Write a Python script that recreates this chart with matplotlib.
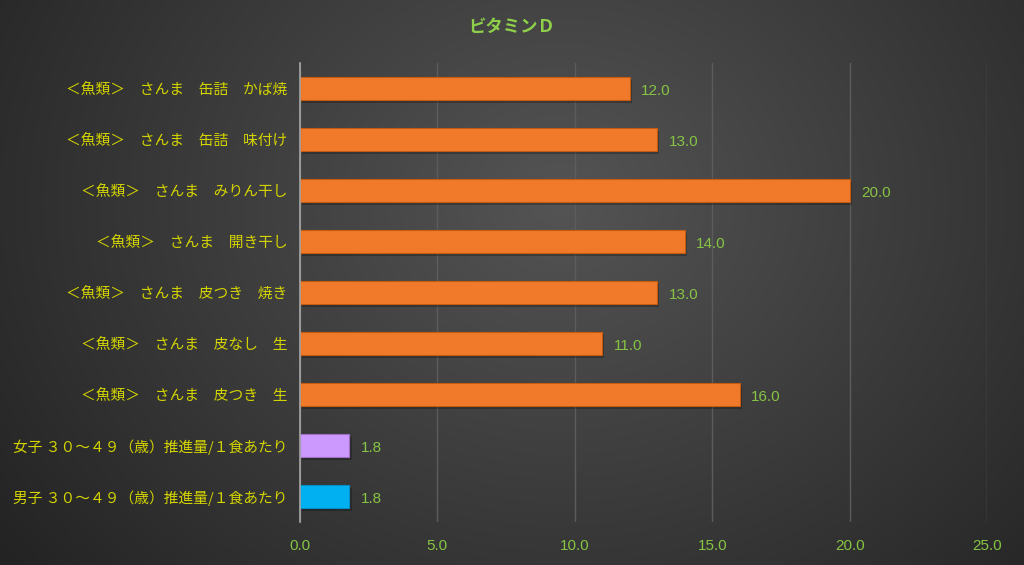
import matplotlib
matplotlib.use("Agg")
import matplotlib.pyplot as plt
import numpy as np

plt.rcParams['font.family'] = ['Noto Sans CJK JP', 'DejaVu Sans']

# data, top to bottom
labels = [
	"＜魚類＞　さんま　缶詰　かば焼",
	"＜魚類＞　さんま　缶詰　味付け",
	"＜魚類＞　さんま　みりん干し",
	"＜魚類＞　さんま　開き干し",
	"＜魚類＞　さんま　皮つき　焼き",
	"＜魚類＞　さんま　皮なし　生",
	"＜魚類＞　さんま　皮つき　生",
	"女子 ３０～４９（歳）推進量/１食あたり",
	"男子 ３０～４９（歳）推進量/１食あたり",
]
values = [12.0, 13.0, 20.0, 14.0, 13.0, 11.0, 16.0, 1.8, 1.8]
bar_colors = ["#F07A2A"] * 7 + ["#CC99FF", "#00B0F0"]
edge_colors = ["#C55A11"] * 7 + ["#9E6FC9", "#0090C8"]
title = "ビタミンＤ"
xticks = [0, 5, 10, 15, 20, 25]

green = "#86C443"
yellow = "#D4D400"
numfont = ["Liberation Sans", "DejaVu Sans"]

fig = plt.figure(figsize=(10.24, 5.65), dpi=100)

# radial gradient background
bg = fig.add_axes([0, 0, 1, 1], zorder=-10)
h, w = 565, 1024
yy, xx = np.mgrid[0:h, 0:w]
r = np.sqrt(((xx - 560) / 620.0) ** 2 + ((yy - 200) / 520.0) ** 2)
shade = np.clip(0.33 - 0.17 * r, 0.12, 0.4)
bg.imshow(np.dstack([shade, shade, shade]), aspect="auto", extent=[0, 1, 0, 1])
bg.axis("off")

ax = fig.add_axes([300 / 1024, 1 - 522 / 565, 687 / 1024, 459 / 565])
ax.set_facecolor("none")

ypos = np.arange(len(values))[::-1]
# soft shadow
ax.barh(ypos - 0.06, values, height=0.45, left=0.08, color="black", alpha=0.25, zorder=2)
ax.barh(ypos, values, height=0.45, color=bar_colors, edgecolor=edge_colors, linewidth=0.8, zorder=3)

for y, v in zip(ypos, values):
	ax.text(v + 0.42, y - 0.02, f"{v:.1f}", va="center_baseline", ha="left", color=green, fontsize=11, family=numfont)

ax.set_xlim(0, 25)
ax.set_ylim(-0.5, len(values) - 0.5)
ax.set_xticks(xticks)
ax.set_xticklabels([f"{t:.1f}" for t in xticks], color=green, fontsize=11, family=numfont)
ax.set_yticks(ypos)
ax.set_yticklabels(labels, color=yellow, fontsize=10.6)
ax.tick_params(axis="both", length=0)
ax.tick_params(axis="x", pad=12)
ax.tick_params(axis="y", pad=9)

ax.grid(axis="x", color="#5c5c5c", linewidth=1, zorder=0)
ax.set_axisbelow(True)
for s in ["top", "right", "bottom"]:
	ax.spines[s].set_visible(False)
ax.spines["left"].set_color("#a8a8a8")
ax.spines["left"].set_linewidth(1.2)
ax.spines["left"].set_zorder(4)

fig.text(0.5, 0.952, title, ha="center", va="center", color="#8FD04A", fontsize=12.5, fontweight="bold")

fig.savefig("out.png", dpi=100)
